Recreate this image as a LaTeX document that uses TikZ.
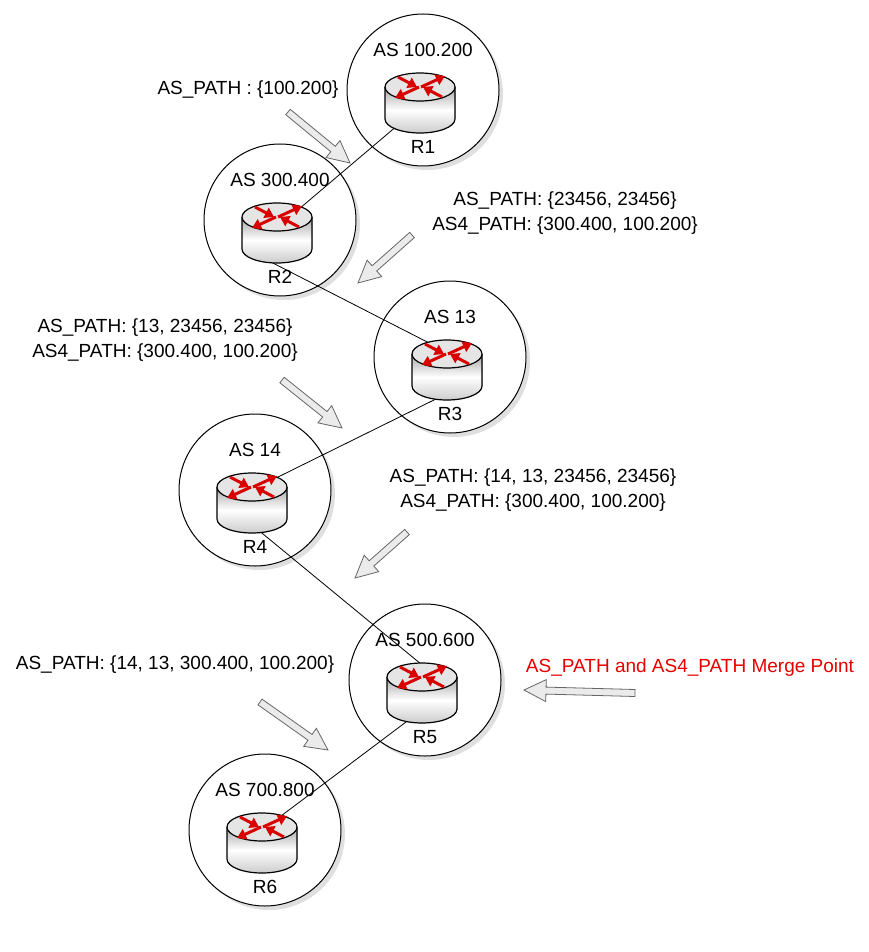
\documentclass[tikz,border=0pt]{standalone}
\usepackage{fontspec}
\setmainfont{Liberation Sans}
\usetikzlibrary{calc,shadows,arrows.meta}
\tikzset{
  asarea/.style={draw, line width=1pt, fill=white, circle, minimum size=152pt, inner sep=0pt,
    drop shadow={opacity=0.25, shadow xshift=4pt, shadow yshift=-4pt}},
  lbl/.style={font=\fontsize{19}{25}\selectfont, align=center},
  link/.style={line width=0.8pt},
  hollow/.style={draw=black!60, fill=black!8, line width=0.8pt},
  redarrow/.style={red!85!black, line width=3pt, -{Triangle[length=9pt,width=11pt]}},
}
% hollow grey arrow from #1 to #2
\newcommand\hollowarrow[2]{%
  \coordinate (ha) at (#1); \coordinate (hb) at (#2);
  \coordinate (hm) at ($(hb)!22pt!(ha)$);
  \draw[hollow] ($(ha)!3.5pt!90:(hb)$) -- ($(hm)!3.5pt!-90:(ha)$) -- ($(hm)!11pt!-90:(ha)$)
    -- (hb) -- ($(hm)!11pt!90:(ha)$) -- ($(hm)!3.5pt!90:(ha)$) -- ($(ha)!3.5pt!-90:(hb)$) -- cycle;}
% router icon centred on #1
\newcommand\router[1]{%
  \begin{scope}[shift={(#1)}]
    \fill[left color=black!35, right color=black!20, middle color=white, shading angle=0]
      (-35,0) -- (-35,32) arc[start angle=180, end angle=360, x radius=35, y radius=-14] -- (35,0) -- cycle;
    \draw[line width=1.2pt] (-35,0) -- (-35,32) arc[start angle=180, end angle=360, x radius=35, y radius=-14] -- (35,0);
    \draw[line width=1.2pt, fill=black!10] (0,0) ellipse[x radius=35, y radius=14];
    \draw[redarrow] (-22,-10) -- (-3,0);
    \draw[redarrow] (22,10) -- (3,0);
    \draw[redarrow] (1,0) -- (25,-11);
    \draw[redarrow] (-1,0) -- (-25,11);
  \end{scope}}
\begin{document}
\begin{tikzpicture}[x=1pt, y=-1pt]
\useasboundingbox (0,0) rectangle (869,952);
% AS areas
\node[asarea] (as1) at (423,90) {};
\node[asarea] (as2) at (280,220) {};
\node[asarea] (as3) at (450,357) {};
\node[asarea] (as4) at (255,490) {};
\node[asarea] (as5) at (425,680) {};
\node[asarea] (as6) at (265,830) {};
\foreach \n/\t in {1/100.200, 2/300.400, 3/13, 4/14, 5/500.600, 6/700.800}
  \node[lbl] at ($(as\n)+(0,-40)$) {AS \t};
\foreach \n in {1,...,6} {
  \coordinate (r\n) at ($(as\n)+(-3,-3)$);
  \node[lbl] at ($(as\n)+(0,57)$) {R\n};
}
% links
\draw[link] ($(r1)+(-22,38)$) -- ($(r2)+(22,-8)$);
\draw[link] ($(r2)+(-12,42)$) -- ($(r3)+(-12,-8)$);
\draw[link] ($(r3)+(-5,42)$) -- ($(r4)+(22,-8)$);
\draw[link] ($(r4)+(5,42)$) -- ($(r5)+(5,-8)$);
\draw[link] ($(r5)+(-12,42)$) -- ($(r6)+(15,-8)$);
\foreach \n in {1,...,6} \router{r\n};
% path labels
\node[lbl] (p1) at (248,90) {AS\_PATH : \{100.200\}};
\node[lbl] (p2) at (565,213) {AS\_PATH: \{23456, 23456\}\\AS4\_PATH: \{300.400, 100.200\}};
\node[lbl] (p3) at (165,340) {AS\_PATH: \{13, 23456, 23456\}\\AS4\_PATH: \{300.400, 100.200\}};
\node[lbl] (p4) at (533,490) {AS\_PATH: \{14, 13, 23456, 23456\}\\AS4\_PATH: \{300.400, 100.200\}};
\node[lbl] (p5) at (175,665) {AS\_PATH: \{14, 13, 300.400, 100.200\}};
\node[lbl, text=red!90!black] (mp) at (690,668) {AS\_PATH and AS4\_PATH Merge Point};
% announcements
\hollowarrow{288,112}{350,163}
\hollowarrow{412,235}{358,283}
\hollowarrow{282,380}{342,428}
\hollowarrow{407,532}{355,578}
\hollowarrow{260,702}{328,750}
\hollowarrow{635,693}{524,690}
\end{tikzpicture}
\end{document}
